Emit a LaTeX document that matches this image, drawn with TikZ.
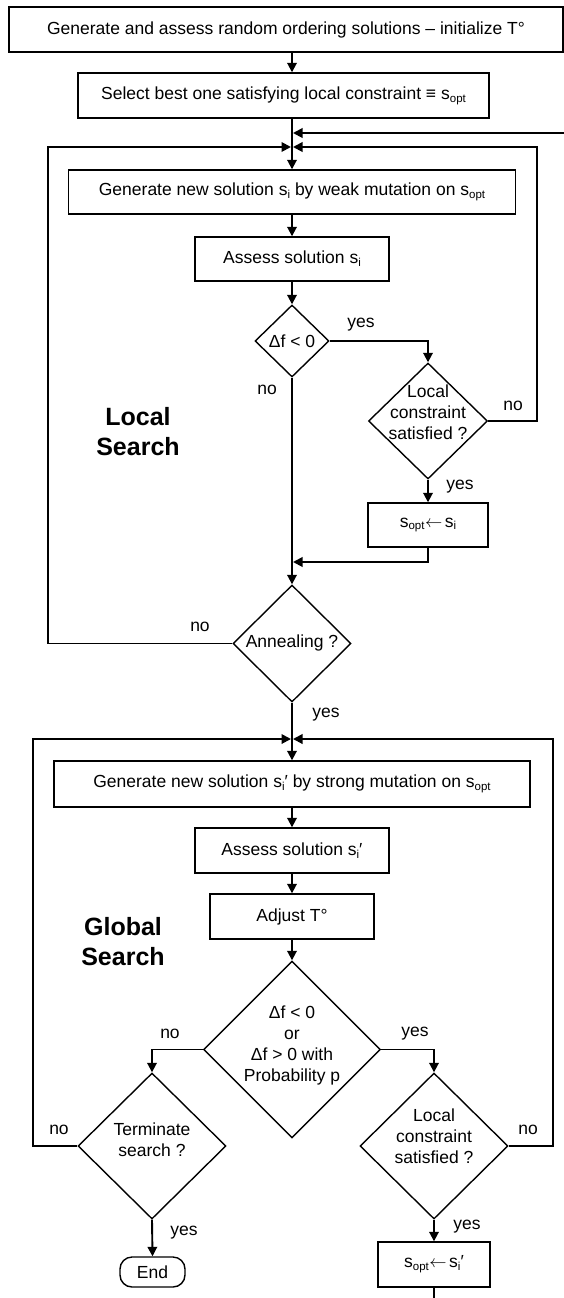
\documentclass[tikz,border=0pt]{standalone}
\usepackage{fontspec}
\setmainfont{Liberation Sans}
\usetikzlibrary{shapes.geometric,arrows.meta}
\newcommand\fsn{\fontsize{17.5}{21}\selectfont}
\newcommand\fsb{\fontsize{25}{30}\selectfont\bfseries}
\newcommand\subtx[1]{\raisebox{-0.3ex}{\fontsize{11.5}{12}\selectfont #1}}
\newcommand\larr{\kern0.5pt$\leftarrow$\kern2.5pt}
\begin{document}
\begin{tikzpicture}[x=1pt,y=-1pt,
  box/.style={draw,line width=1.4pt,inner sep=0pt,font=\fsn},
  dia/.style={draw,diamond,line width=1.4pt,inner sep=0pt},
  txt/.style={font=\fsn,inner sep=0pt,align=center},
  lab/.style={font=\fsn,inner sep=0pt},
  big/.style={font=\fsb,inner sep=0pt,align=center},
  conn/.style={line width=1.9pt},
  arr/.style={conn,-{Triangle[length=9.5pt,width=9.5pt]}}]
\useasboundingbox (0,0) rectangle (564,1298);
\coordinate (col) at (292,0);
% boxes
\node[box,minimum width=554pt,minimum height=45pt] (top) at (286,29.5) {Generate and assess random ordering solutions -- initialize T°};
\node[box,minimum width=411pt,minimum height=45pt] (sel) at (283.5,95.5) {Select best one satisfying local constraint ≡ s\subtx{opt}};
\node[box,minimum width=447pt,minimum height=44pt] (gen) at (292,192) {Generate new solution s\subtx{i} by weak mutation on s\subtx{opt}};
\node[box,minimum width=194pt,minimum height=44pt] (as1) at (292,259) {Assess solution s\subtx{i}};
\node[dia,minimum width=74pt,minimum height=72pt] (d1) at (292,341) {};
\node[txt] (d1t) at (292,341) {Δf < 0};
\node[dia,minimum width=119pt,minimum height=116pt] (lc) at (428,421) {};
\node[txt] (lct) at (428,412) {Local\\constraint\\satisfied ?};
\node[box,minimum width=120pt,minimum height=44pt] (so1) at (428,525) {s\subtx{opt}\larr s\subtx{i}};
\node[dia,minimum width=118pt,minimum height=117pt] (ann) at (292,643.5) {};
\node[txt] (annt) at (292,643) {Annealing ?};
\node[big] (ls) at (138,432) {Local\\Search};
% global
\node[box,minimum width=476pt,minimum height=46pt] (gen2) at (292,784) {Generate new solution s\subtx{i}′ by strong mutation on s\subtx{opt}};
\node[box,minimum width=194pt,minimum height=45pt] (as2) at (292,850.5) {Assess solution s\subtx{i}′};
\node[box,minimum width=164pt,minimum height=45pt] (adj) at (292,916.5) {Adjust T°};
\node[dia,minimum width=177pt,minimum height=177pt] (d2) at (292,1049.5) {};
\node[txt] (d2t) at (292,1045) {Δf < 0\\or\\Δf > 0 with\\Probability p};
\node[dia,minimum width=148pt,minimum height=146pt] (term) at (152,1146) {};
\node[txt] (termt) at (152,1140) {Terminate\\search ?};
\node[dia,minimum width=148pt,minimum height=146pt] (lc2) at (434,1146) {};
\node[txt] (lc2t) at (434,1136) {Local\\constraint\\satisfied ?};
\node[box,rounded corners=12pt,minimum width=65pt,minimum height=30pt] (end) at (152.5,1272) {End};
\node[box,minimum width=112pt,minimum height=45pt] (so2) at (434,1264.5) {s\subtx{opt}\larr s\subtx{i}′};
\node[big] (gs) at (123,942) {Global\\Search};
% junction coordinates
\coordinate (gback) at (564,133);
\coordinate (ljl) at (291,147);
\coordinate (ljr) at (293,147);
\coordinate (lfl) at (48,147);
\coordinate (lfr) at (537,147);
\coordinate (mj) at (293,562);
\coordinate (gjl) at (291,739);
\coordinate (gjr) at (293,739);
\coordinate (gfl) at (33,739);
\coordinate (gfr) at (553,739);
\coordinate (bot) at (434,1300);
% connectors
\draw[arr] (top.south -| col) -- (sel.north -| col);
\draw[arr] (sel.south -| col) -- (gen.north);
\draw[arr] (gback) -- (gback -| ljr);
\draw[arr] (ann.west) -| (lfl) -- (ljl);
\draw[arr] (lc.east) -| (lfr) -- (ljr);
\draw[arr] (gen.south) -- (as1.north);
\draw[arr] (as1.south) -- (d1.north);
\draw[arr] (d1.east) -| (lc.north);
\draw[arr] (d1.south) -- (ann.north);
\draw[arr] (lc.south) -- (so1.north);
\draw[arr] (so1.south) |- (mj);
\draw[arr] (ann.south) -- (gen2.north);
\draw[arr] (term.west) -| (gfl) -- (gjl);
\draw[arr] (lc2.east) -| (gfr) -- (gjr);
\draw[arr] (gen2.south) -- (as2.north);
\draw[arr] (as2.south) -- (adj.north);
\draw[arr] (adj.south) -- (d2.north);
\draw[arr] (d2.west) -| (term.north);
\draw[arr] (d2.east) -| (lc2.north);
\draw[arr] (term.south) -- (end.north);
\draw[arr] (lc2.south) -- (so2.north);
\draw[conn] (so2.south) -- (bot);
% labels
\node[lab] (l1) at (361,325) {yes};
\node[lab] (l2) at (267,390) {no};
\node[lab] (l3) at (513,406) {no};
\node[lab] (l4) at (460,487) {yes};
\node[lab] (l5) at (200,627) {no};
\node[lab] (l6) at (326,715) {yes};
\node[lab] (l7) at (170,1034) {no};
\node[lab] (l8) at (415,1034) {yes};
\node[lab] (l9) at (59,1130) {no};
\node[lab] (l10) at (184,1233) {yes};
\node[lab] (l11) at (528,1130) {no};
\node[lab] (l12) at (467,1227) {yes};
\end{tikzpicture}
\end{document}
